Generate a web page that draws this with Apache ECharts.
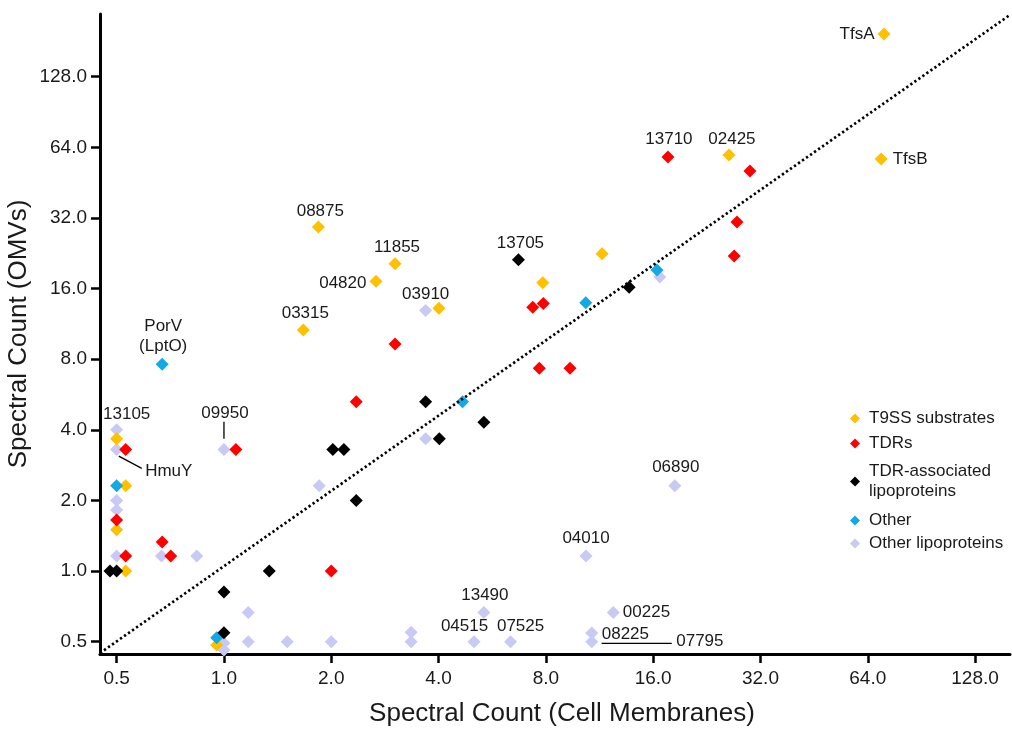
<!DOCTYPE html>
<html>
<head>
<meta charset="utf-8">
<script src="https://cdn.jsdelivr.net/npm/echarts@6/dist/echarts.min.js"></script>
<style>
html,body{margin:0;padding:0;background:#fff;}
#chart{width:1012px;height:730px;}
</style>
</head>
<body>
<div id="chart"></div>
<script>
// ---- Data: [cell membrane count, OMV count, label] ----
const seriesNames = ['T9SS substrates', 'TDRs', 'TDR-associated lipoproteins', 'Other', 'Other lipoproteins'];
const tickValues = [0.5, 1, 2, 4, 8, 16, 32, 64, 128];

const t9ssSubstrates = [
  [71.1, 194.6, 'TfsA'], [69.8, 57.1, 'TfsB'], [26.1, 59.3, '02425'], [1.84, 29.3, '08875'],
  [3.02, 20.4, '11855'], [2.67, 17.2, '04820'], [4.01, 13.2, ''], [1.67, 10.65, '03315'],
  [7.84, 16.95, ''], [11.5, 22.5, ''], [0.5, 3.66, ''], [0.53, 2.31, ''], [0.5, 1.5, ''],
  [0.53, 1.0, ''], [0.954, 0.484, '']
];
const tdrs = [
  [17.6, 58.2, '13710'], [29.9, 50.7, ''], [27.5, 30.7, ''], [27.0, 22.0, ''], [7.35, 13.3, ''],
  [7.87, 13.8, ''], [3.02, 9.29, ''], [7.67, 7.32, ''], [9.35, 7.32, ''], [2.35, 5.27, ''],
  [1.08, 3.30, ''], [0.53, 3.30, ''], [0.5, 1.65, ''], [0.671, 1.33, ''], [0.709, 1.16, ''],
  [0.53, 1.16, ''], [2.0, 1.0, '']
];
const tdrLipoproteins = [
  [6.70, 21.2, '13705'], [13.7, 16.2, ''], [3.68, 5.27, ''], [5.36, 4.31, ''], [4.02, 3.66, ''],
  [2.02, 3.30, ''], [2.17, 3.30, ''], [2.35, 2.0, ''], [1.34, 1.0, ''], [1.0, 0.814, ''],
  [1.0, 0.546, ''], [0.479, 1.0, ''], [0.5, 1.0, '']
];
const otherProteins = [
  [0.671, 7.61, 'PorV\n(LptO)'], [10.35, 13.9, ''], [16.4, 19.2, ''], [4.67, 5.27, ''],
  [0.5, 2.31, ''], [0.954, 0.52, '']
];
const otherLipoproteins = [
  [16.7, 17.9, ''], [3.68, 12.9, '03910'], [3.68, 3.66, ''], [18.4, 2.31, '06890'], [1.85, 2.31, ''],
  [0.5, 4.0, '13105'], [0.5, 3.30, 'HmuY'], [1.0, 3.30, '09950'], [0.5, 2.0, ''], [0.5, 1.82, ''],
  [0.5, 1.16, ''], [0.668, 1.16, ''], [0.839, 1.16, ''], [10.37, 1.16, '04010'], [1.17, 0.665, ''],
  [5.36, 0.665, '13490'], [12.37, 0.665, '00225'], [1.17, 0.5, ''], [1.505, 0.5, ''], [2.0, 0.5, ''],
  [3.35, 0.5, ''], [5.03, 0.5, '04515'], [6.37, 0.5, '07525'], [10.76, 0.5, '07795'],
  [3.35, 0.548, ''], [10.76, 0.545, '08225'], [1.0, 0.494, ''], [1.0, 0.461, '']
];
// fitted trend line (end points) and label leader lines, in data units
const trendLine = [[0.449, 0.447], [160.4, 234.6]];
const leaderLines = [
  [[1.0, 4.33], [1.0, 3.66]],
  [[0.507, 3.09], [0.588, 2.74]],
  [[11.47, 0.492], [18.04, 0.492]]
];

// ---- Styles ----
const FONT = 'Liberation Sans, Arial, Helvetica, sans-serif';
const colors = {
  'T9SS substrates': '#FFC000',
  'TDRs': '#FF0000',
  'TDR-associated lipoproteins': '#000000',
  'Other': '#12A9E6',
  'Other lipoproteins': '#C9C9F5'
};
const labelStyles = {
  'TfsA': {position: 'left', distance: 3},
  'TfsB': {position: 'right', distance: 5},
  '02425': {position: 'top', distance: 1, offset: [3, 0]},
  '13710': {position: 'top', distance: 3, offset: [1, 0]},
  '08875': {position: 'top', distance: 1, offset: [2, 0]},
  '11855': {position: 'top', distance: 1, offset: [2, 0]},
  '13705': {position: 'top', distance: 2, offset: [2, 0]},
  '04820': {position: 'left', distance: 3, offset: [0, 2]},
  '03910': {position: 'top', distance: 1},
  '03315': {position: 'top', distance: 2, offset: [2, 0]},
  'PorV\n(LptO)': {position: 'top', distance: 1, offset: [1, 0], lineHeight: 20},
  '13105': {position: 'top', distance: 0, offset: [10, 0]},
  '09950': {position: 'top', distance: 21, offset: [1, 0]},
  'HmuY': {position: 'right', distance: 5, offset: [17, 22]},
  '06890': {position: 'top', distance: 3, offset: [1, 0]},
  '04010': {position: 'top', distance: 3},
  '13490': {position: 'top', distance: 2, offset: [1, 0]},
  '04515': {position: 'top', distance: 0, offset: [-9.5, 0]},
  '07525': {position: 'top', distance: 0, offset: [10, 0]},
  '00225': {position: 'right', distance: 3},
  '08225': {position: 'right', distance: 3.5, offset: [0, 1]},
  '07795': {position: 'right', distance: 78}
};

function buildData(rows) {
  return rows.map(r => {
    const item = {value: [r[0], r[1]], name: r[2]};
    const ls = labelStyles[r[2]];
    if (r[2] && ls) {
      item.label = Object.assign({
        show: true, formatter: '{b}', color: '#1a1a1a', fontSize: 17, fontFamily: FONT
      }, ls);
    }
    return item;
  });
}

const seriesData = {
  'T9SS substrates': t9ssSubstrates,
  'TDRs': tdrs,
  'TDR-associated lipoproteins': tdrLipoproteins,
  'Other': otherProteins,
  'Other lipoproteins': otherLipoproteins
};
const drawOrder = ['Other lipoproteins', 'T9SS substrates', 'TDRs', 'Other', 'TDR-associated lipoproteins'];

const series = drawOrder.map(n => ({
  name: n, type: 'scatter', symbol: 'diamond', symbolSize: 13,
  itemStyle: {color: colors[n], opacity: 1},
  emphasis: {disabled: true},
  data: buildData(seriesData[n])
}));
series.push({
  name: 'trend', type: 'line', data: trendLine, symbol: 'none', silent: true, z: 5,
  lineStyle: {color: '#000', width: 2.7, type: [2.3, 2.6]}
});
leaderLines.forEach((seg, i) => series.push({
  name: 'leader' + i, type: 'line', data: seg, symbol: 'none', silent: true,
  lineStyle: {color: '#000', width: 1.3}
}));

const legendTops = [408.5, 433.5, 461.5, 510.5, 533.5];
const legends = seriesNames.map((n, i) => ({
  data: [n], left: 850, top: legendTops[i], orient: 'vertical', padding: 0,
  icon: 'diamond', itemWidth: 10, itemHeight: 10, selectedMode: false,
  formatter: n === 'TDR-associated lipoproteins' ? 'TDR-associated\nlipoproteins' : '{name}',
  textStyle: {fontSize: 17, fontFamily: FONT, color: '#1a1a1a', lineHeight: 20, padding: [0, 0, 0, 4]}
}));

const axisCommon = {
  type: 'log', logBase: 2,
  axisLine: {show: true, lineStyle: {color: '#000', width: 3}},
  axisTick: {show: true, inside: false, length: 9, lineStyle: {color: '#000', width: 2.5}, customValues: tickValues},
  axisLabel: {customValues: tickValues, formatter: v => Number(v).toFixed(1), color: '#1a1a1a', fontSize: 19, fontFamily: FONT},
  splitLine: {show: false},
  minorTick: {show: false},
  nameLocation: 'middle',
  nameMoveOverlap: false,
  nameTextStyle: {fontSize: 26, fontFamily: FONT, color: '#1a1a1a'}
};

const option = {
  animation: false,
  backgroundColor: '#fff',
  grid: {left: 100, right: 2, top: 14, bottom: 76, containLabel: false, outerBoundsMode: 'none'},
  legend: legends,
  xAxis: Object.assign({}, axisCommon, {
    min: 0.449, max: 160.4,
    name: 'Spectral Count (Cell Membranes)', nameGap: 47,
    nameTextStyle: Object.assign({}, axisCommon.nameTextStyle, {padding: [0, 0, 0, 14]}),
    axisLabel: Object.assign({}, axisCommon.axisLabel, {margin: 15})
  }),
  yAxis: Object.assign({}, axisCommon, {
    min: 0.443, max: 236.7,
    name: 'Spectral Count (OMVs)', nameGap: 68,
    axisLabel: Object.assign({}, axisCommon.axisLabel, {margin: 13})
  }),
  series: series
};

const chart = echarts.init(document.getElementById('chart'), null, {renderer: 'canvas'});
chart.setOption(option);
</script>
</body>
</html>
